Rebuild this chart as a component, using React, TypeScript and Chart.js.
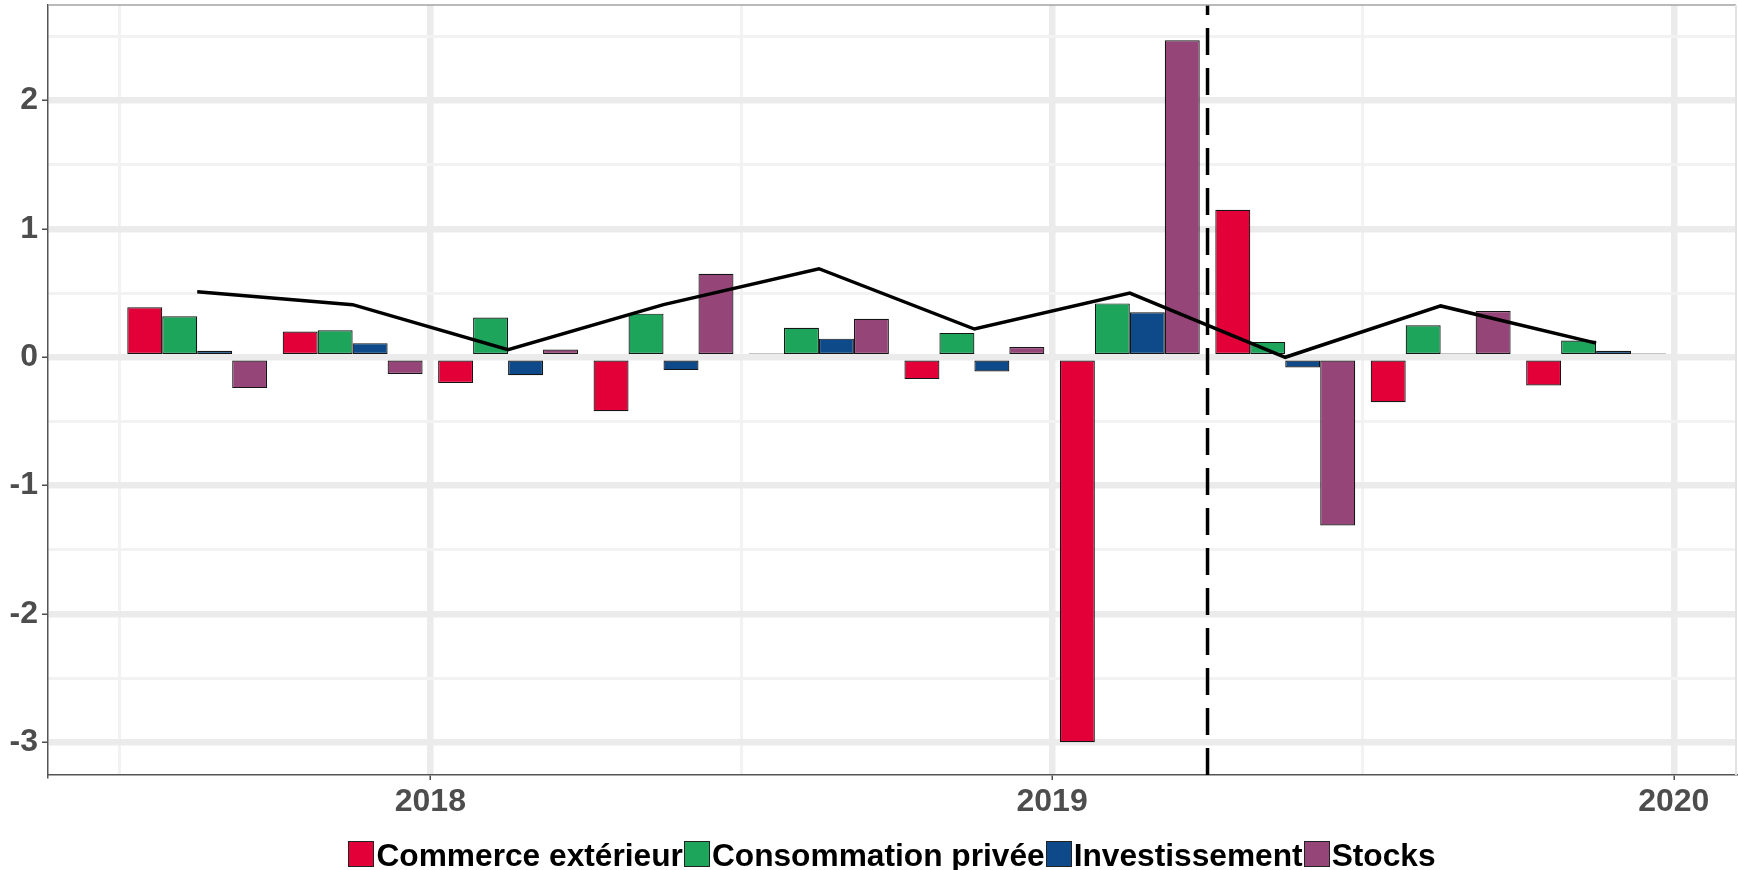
import React, { useEffect, useRef } from 'react';
import { Chart, registerables } from 'chart.js';

Chart.register(...registerables);

// ---- Data ----
const quarters = ['2017T3', '2017T4', '2018T1', '2018T2', '2018T3', '2018T4', '2019T1', '2019T2', '2019T3', '2019T4'];
const commerceExterieur = [0.39, 0.20, -0.20, -0.42, 0.03, -0.17, -3.00, 1.15, -0.35, -0.22];
const consommationPrivee = [0.32, 0.21, 0.31, 0.34, 0.23, 0.19, 0.42, 0.12, 0.25, 0.13];
const investissement = [0.05, 0.11, -0.14, -0.10, 0.145, -0.11, 0.35, -0.08, 0.03, 0.05];
const stocks = [-0.24, -0.13, 0.06, 0.65, 0.30, 0.08, 2.47, -1.31, 0.36, 0.03];
const croissancePib = [0.51, 0.41, 0.06, 0.41, 0.69, 0.22, 0.50, 0.00, 0.40, 0.11];

const seriesLabels = ['Commerce extérieur', 'Consommation privée', 'Investissement', 'Stocks'];
const seriesValues = [commerceExterieur, consommationPrivee, investissement, stocks];
const seriesColors = ['#E30039', '#1DA55C', '#0E4A89', '#964579'];

const xGridTicks = [2017.5, 2018, 2018.5, 2019, 2019.5, 2020];
const yGridTicks = [-3, -2.5, -2, -1.5, -1, -0.5, 0, 0.5, 1, 1.5, 2, 2.5];
const forecastStart = 2019.25; // 1er avril 2019

const X_MIN = 2017.385;
const X_MAX = 2020.1;
const Y_MIN = -3.255;
const Y_MAX = 2.745;

const FONT = "'Liberation Sans', Arial, Helvetica, sans-serif";

// quarter label -> fractional year at the middle of the quarter
const quarterToX = (q: string) => {
  const year = parseInt(q.slice(0, 4), 10);
  const t = parseInt(q.slice(5), 10);
  return year + (t - 0.5) / 4;
};

const isInt = (v: number) => Math.abs(v - Math.round(v)) < 1e-6;

const framePlugin = {
  id: 'frame',
  afterDraw(chart: any) {
    const { ctx, chartArea } = chart;
    ctx.save();
    ctx.strokeStyle = '#A3A3A3';
    ctx.lineWidth = 1.5;
    ctx.beginPath();
    ctx.moveTo(chartArea.left, chartArea.top);
    ctx.lineTo(chartArea.right, chartArea.top);
    ctx.stroke();
    ctx.strokeStyle = '#E3E3E3';
    ctx.lineWidth = 2;
    ctx.beginPath();
    ctx.moveTo(chartArea.right, chartArea.top);
    ctx.lineTo(chartArea.right, chartArea.bottom);
    ctx.stroke();
    ctx.restore();
  },
};

const forecastLinePlugin = {
  id: 'forecastLine',
  afterDatasetsDraw(chart: any) {
    const { ctx, chartArea, scales } = chart;
    const x = scales.x.getPixelForValue(forecastStart);
    ctx.save();
    ctx.strokeStyle = '#000000';
    ctx.lineWidth = 3.5;
    ctx.setLineDash([27, 13]);
    ctx.beginPath();
    ctx.moveTo(x, chartArea.bottom);
    ctx.lineTo(x, chartArea.top);
    ctx.stroke();
    ctx.restore();
  },
};

export default function App() {
  const canvasRef = useRef<HTMLCanvasElement | null>(null);

  useEffect(() => {
    document.body.style.margin = '0';
    document.body.style.background = '#ffffff';
    const canvas = canvasRef.current;
    if (!canvas) return;

    const barDatasets = seriesValues.map((values, i) => ({
      type: 'bar' as const,
      label: seriesLabels[i],
      data: quarters.map((q, j) => ({ x: quarterToX(q), y: values[j] })),
      backgroundColor: seriesColors[i],
      borderColor: '#151515',
      borderWidth: 1.2,
      borderSkipped: false,
      categoryPercentage: 0.9,
      barPercentage: 1,
      order: 1,
    }));

    const lineDataset = {
      type: 'line' as const,
      label: 'PIB',
      data: quarters.map((q, j) => ({ x: quarterToX(q), y: croissancePib[j] })),
      borderColor: '#000000',
      borderWidth: 3.5,
      pointRadius: 0,
      tension: 0,
      fill: false,
      order: 0,
    };

    const chart = new Chart(canvas, {
      type: 'bar',
      data: { datasets: [...barDatasets, lineDataset] as any },
      options: {
        responsive: false,
        animation: false,
        events: [],
        layout: { padding: { top: 5, right: 2, left: 0, bottom: 0 } },
        plugins: {
          legend: { display: false },
          tooltip: { enabled: false },
        },
        scales: {
          x: {
            type: 'linear',
            min: X_MIN,
            max: X_MAX,
            bounds: 'data',
            offset: false,
            afterBuildTicks: (scale: any) => {
              scale.ticks = xGridTicks.map((v) => ({ value: v }));
            },
            afterFit: (scale: any) => {
              scale.height = 95;
              scale.paddingLeft = 0;
              scale.paddingRight = 0;
            },
            grid: {
              offset: false,
              color: (c: any) => (isInt(c.tick.value) ? '#EBEBEB' : '#F2F2F2'),
              lineWidth: (c: any) => (isInt(c.tick.value) ? 6.5 : 3),
              tickLength: 5,
              tickWidth: 1.5,
              tickColor: (c: any) => (isInt(c.tick.value) ? '#4D4D4D' : 'rgba(0,0,0,0)'),
            },
            border: { display: true, color: '#555555', width: 1.5 },
            ticks: {
              autoSkip: false,
              maxRotation: 0,
              minRotation: 0,
              padding: 3,
              color: '#4D4D4D',
              font: { family: FONT, size: 32, weight: 'bold' },
              callback: (v: any) => (isInt(Number(v)) ? String(Math.round(Number(v))) : ''),
            },
          },
          y: {
            type: 'linear',
            min: Y_MIN,
            max: Y_MAX,
            bounds: 'data',
            afterBuildTicks: (scale: any) => {
              scale.ticks = yGridTicks.map((v) => ({ value: v }));
            },
            afterFit: (scale: any) => {
              scale.width = 48;
              scale.paddingTop = 0;
              scale.paddingBottom = 0;
            },
            grid: {
              color: (c: any) => (isInt(c.tick.value) ? '#EBEBEB' : '#F2F2F2'),
              lineWidth: (c: any) => (isInt(c.tick.value) ? 6.5 : 3),
              tickLength: 6,
              tickWidth: 1.5,
              tickColor: (c: any) => (isInt(c.tick.value) ? '#4D4D4D' : 'rgba(0,0,0,0)'),
            },
            border: { display: true, color: '#555555', width: 1.5 },
            ticks: {
              autoSkip: false,
              padding: 4,
              color: '#4D4D4D',
              font: { family: FONT, size: 32, weight: 'bold' },
              callback: (v: any) => (isInt(Number(v)) ? String(Math.round(Number(v))) : ''),
            },
          },
        },
      } as any,
      plugins: [framePlugin, forecastLinePlugin],
    });

    return () => {
      chart.destroy();
    };
  }, []);

  return (
    <div style={{ position: 'absolute', left: 0, top: 0, width: 1738, height: 870, background: '#ffffff' }}>
      <canvas ref={canvasRef} width={1738} height={870} style={{ display: 'block' }} />
      <div
        style={{
          position: 'absolute',
          left: 48,
          width: 1688,
          top: 840,
          height: 30,
          display: 'flex',
          justifyContent: 'center',
          alignItems: 'flex-start',
          fontFamily: FONT,
          fontWeight: 'bold',
          fontSize: 31.7,
          lineHeight: '30px',
          color: '#000000',
          whiteSpace: 'nowrap',
        }}
      >
        {seriesLabels.map((label, i) => (
          <div key={label} style={{ display: 'flex', alignItems: 'flex-start', marginRight: i < seriesLabels.length - 1 ? 1 : 0 }}>
            <span
              style={{
                display: 'inline-block',
                boxSizing: 'border-box',
                width: 26,
                height: 26,
                marginTop: 1,
                background: seriesColors[i],
                border: '1px solid #222222',
                marginRight: 2,
              }}
            />
            <span>{label}</span>
          </div>
        ))}
      </div>
    </div>
  );
}
